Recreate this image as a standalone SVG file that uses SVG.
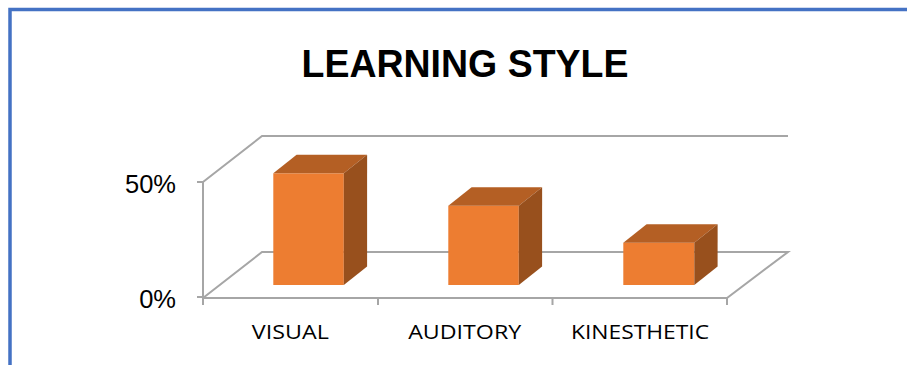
<svg xmlns="http://www.w3.org/2000/svg" width="907" height="365" viewBox="0 0 907 365">
<style>
.ax{stroke:#A6A6A6;stroke-width:2;fill:none;stroke-linecap:butt}
.front{fill:#ED7D31}
.top{fill:#B45F24}
.side{fill:#98501D}
.title{font-family:"Liberation Sans",Arial,sans-serif;font-weight:bold;font-size:39.5px;fill:#000}
.val{font-family:"Liberation Sans",Arial,sans-serif;font-size:25.5px;fill:#000}
.cat{font-family:"Open Sans","Liberation Sans",sans-serif;font-size:20px;fill:#000}
</style>
<rect x="0" y="0" width="907" height="365" fill="#fff"/>
<path d="M10,365 V9.5 H907" fill="none" stroke="#4472C4" stroke-width="3.5"/>
<text class="title" x="465" y="76.7" text-anchor="middle" textLength="327" lengthAdjust="spacingAndGlyphs">LEARNING STYLE</text>
<g id="axes" class="ax">
<path d="M203,182 L262,136 H788"/>
<path d="M203,298 L262,252 H788 L727,298 H203"/>
<path d="M203,182 V305 M197,182 H203 M197,297 H203"/>
<path d="M378,298 V305 M552.5,298 V305 M727,298 V305"/>
</g>
<g id="labels">
<text class="val" x="176" y="193.3" text-anchor="end">50%</text>
<text class="val" x="176" y="307.7" text-anchor="end">0%</text>
<text class="cat" x="290.3" y="339.3" text-anchor="middle" textLength="77" lengthAdjust="spacingAndGlyphs">VISUAL</text>
<text class="cat" x="464.7" y="339.3" text-anchor="middle" textLength="113" lengthAdjust="spacingAndGlyphs">AUDITORY</text>
<text class="cat" x="640" y="339.3" text-anchor="middle" textLength="138" lengthAdjust="spacingAndGlyphs">KINESTHETIC</text>
</g>
<g id="bar-visual">
<rect class="front" x="273.3" y="173.3" width="70.5" height="111.7"/>
<polygon class="top" points="273.3,173.3 296.6,154.8 367.1,154.8 343.8,173.3"/>
<polygon class="side" points="343.8,173.3 367.1,154.8 367.1,266.5 343.8,285"/>
</g>
<g id="bar-auditory">
<rect class="front" x="448.3" y="205.7" width="70.5" height="79.3"/>
<polygon class="top" points="448.3,205.7 471.6,187.2 542.1,187.2 518.8,205.7"/>
<polygon class="side" points="518.8,205.7 542.1,187.2 542.1,266.5 518.8,285"/>
</g>
<g id="bar-kinesthetic">
<rect class="front" x="623.3" y="242.7" width="71" height="42.3"/>
<polygon class="top" points="623.3,242.7 646.6,224.2 717.6,224.2 694.3,242.7"/>
<polygon class="side" points="694.3,242.7 717.6,224.2 717.6,266.5 694.3,285"/>
</g>
</svg>
